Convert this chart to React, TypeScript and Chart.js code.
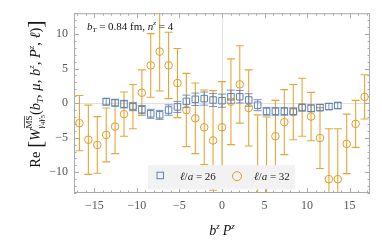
import React, { useEffect, useRef } from 'react';
import { Chart, registerables } from 'chart.js';
Chart.register(...registerables);

// ---- data ----
const bzPzOrange = [-16.76, -15.71, -14.66, -13.61, -12.57, -11.52, -10.47, -9.42, -8.38, -7.33, -6.28, -5.24, -4.19, -3.14, -2.09, -1.05, 0, 1.05, 2.09, 3.14, 4.19, 5.24, 6.28, 7.33, 8.38, 9.42, 10.47, 11.52, 12.57, 13.61, 14.66, 15.71, 16.76];
const valOrange = [-2.9, -5.3, -6.05, -4.6, -3.4, -1.6, -0.5, 1.5, 5.45, 7.45, 5.45, 2.9, -1.0, -2.2, -3.5, -5.4, -3.5, 0.2, 2.7, -0.7, -14.5, -15.0, -4.8, -2.75, -1.3, -0.6, -1.95, -5.05, -11.0, -11.0, -5.9, -3.0, 0.9];
const errOrange = [4.0, 5.0, 4.1, 3.9, 3.9, 3.2, 3.2, 3.3, 4.6, 5.7, 4.8, 5.0, 5.3, 5.1, 5.4, 7.2, 6.6, 6.2, 5.6, 5.5, 12.8, 13.0, 5.2, 4.7, 4.0, 4.2, 3.5, 4.4, 7.3, 7.3, 4.3, 3.4, 3.2];

const bzPzBlue = [-13.61, -12.57, -11.52, -10.47, -9.42, -8.38, -7.33, -6.28, -5.24, -4.19, -3.14, -2.09, -1.05, 0, 1.05, 2.09, 3.14, 4.19, 5.24, 6.28, 7.33, 8.38, 9.42, 10.47, 11.52, 12.57, 13.61];
const valBlue = [0.2, 0.05, -0.15, -0.5, -0.95, -1.55, -1.7, -1.0, -0.55, 0.25, 0.55, 0.65, 0.45, 0.35, 0.92, 0.92, 0.45, -0.3, -1.2, -1.2, -1.2, -1.2, -0.65, -0.75, -0.65, -0.5, -0.35];
const errBlue = [0.5, 0.5, 0.55, 0.6, 0.6, 0.65, 0.65, 0.75, 0.8, 0.9, 0.9, 0.95, 0.95, 0.95, 0.95, 0.9, 0.9, 0.8, 0.55, 0.55, 0.55, 0.5, 0.5, 0.5, 0.45, 0.45, 0.45];

const xTicks = [-15, -10, -5, 0, 5, 10, 15];
const yTicks = [-10, -5, 0, 5, 10];
const seriesLabels = ['26', '32'];

const BLUE = '#5E81B5';
const ORANGE = '#E19C24';
const FONT = "'Liberation Serif', 'DejaVu Serif', serif";

type Seg = { t?: string; s?: number; it?: boolean; dy?: number; over?: boolean; sup?: Seg[]; sub?: Seg[] };

function setFont(ctx: CanvasRenderingContext2D, sg: Seg, base: number) {
  ctx.font = `${sg.it ? 'italic ' : ''}${sg.s ?? base}px ${FONT}`;
}
function segWidth(ctx: CanvasRenderingContext2D, sg: Seg, base: number): number {
  if (sg.sup || sg.sub) {
    const a = (sg.sup || []).reduce((w, q) => w + segWidth(ctx, q, base), 0);
    const b = (sg.sub || []).reduce((w, q) => w + segWidth(ctx, q, base), 0);
    return Math.max(a, b);
  }
  setFont(ctx, sg, base);
  return ctx.measureText(sg.t || '').width;
}
function drawSeg(ctx: CanvasRenderingContext2D, sg: Seg, base: number, x: number, y: number): number {
  if (sg.sup || sg.sub) {
    let a = x;
    for (const q of sg.sup || []) a += drawSeg(ctx, q, base, a, y);
    let b = x;
    for (const q of sg.sub || []) b += drawSeg(ctx, q, base, b, y);
    return Math.max(a, b) - x;
  }
  setFont(ctx, sg, base);
  const w = ctx.measureText(sg.t || '').width;
  ctx.fillText(sg.t || '', x, y + (sg.dy || 0));
  if (sg.over) {
    const size = sg.s ?? base;
    const yy = y + (sg.dy || 0) - size * 0.78;
    ctx.save();
    ctx.lineWidth = 0.7;
    ctx.strokeStyle = ctx.fillStyle as string;
    ctx.beginPath();
    ctx.moveTo(x + 0.5, yy);
    ctx.lineTo(x + w - 0.5, yy);
    ctx.stroke();
    ctx.restore();
  }
  return w;
}
function drawRich(ctx: CanvasRenderingContext2D, segs: Seg[], base: number, x: number, y: number, align: 'left' | 'center') {
  ctx.textAlign = 'left';
  ctx.textBaseline = 'alphabetic';
  const total = segs.reduce((w, q) => w + segWidth(ctx, q, base), 0);
  let cx = align === 'center' ? x - total / 2 : x;
  for (const q of segs) cx += drawSeg(ctx, q, base, cx, y);
}

const fmt = (v: number) => (v < 0 ? '\u2212' + Math.abs(v) : String(v));

const framePlugin = {
  id: 'frameAndErrors',
  beforeDatasetsDraw(chart: any) {
    const { ctx, chartArea: a, scales } = chart;
    const xs = scales.x, ys = scales.y;
    ctx.save();
    // zero lines
    ctx.strokeStyle = '#e2e2e2';
    ctx.lineWidth = 1;
    ctx.beginPath();
    const x0 = Math.round(xs.getPixelForValue(0)) + 0.5;
    const y0 = Math.round(ys.getPixelForValue(0)) + 0.5;
    ctx.moveTo(x0, a.top); ctx.lineTo(x0, a.bottom);
    ctx.moveTo(a.left, y0); ctx.lineTo(a.right, y0);
    ctx.stroke();
    // frame
    ctx.strokeStyle = '#aaaaaa';
    ctx.strokeRect(a.left + 0.5, a.top + 0.5, a.right - a.left - 1, a.bottom - a.top - 1);
    // ticks
    ctx.beginPath();
    for (let v = Math.ceil(xs.min); v <= Math.floor(xs.max); v++) {
      const p = Math.round(xs.getPixelForValue(v)) + 0.5;
      const L = v % 5 === 0 ? 5 : 2.5;
      ctx.moveTo(p, a.bottom); ctx.lineTo(p, a.bottom - L);
      ctx.moveTo(p, a.top); ctx.lineTo(p, a.top + L);
    }
    for (let v = Math.ceil(ys.min); v <= Math.floor(ys.max); v++) {
      const p = Math.round(ys.getPixelForValue(v)) + 0.5;
      const L = v % 5 === 0 ? 5 : 2.5;
      ctx.moveTo(a.left, p); ctx.lineTo(a.left + L, p);
      ctx.moveTo(a.right, p); ctx.lineTo(a.right - L, p);
    }
    ctx.stroke();
    // error bars
    ctx.beginPath();
    ctx.rect(a.left, a.top, a.right - a.left, a.bottom - a.top);
    ctx.clip();
    const order = [1, 0];
    for (const di of order) {
      const ds = chart.data.datasets[di];
      const errs: number[] = ds.errors;
      ctx.strokeStyle = ds.errColor;
      ctx.lineWidth = ds.errWidth;
      ctx.beginPath();
      ds.data.forEach((pt: any, i: number) => {
        const px = xs.getPixelForValue(pt.x);
        const yt = ys.getPixelForValue(pt.y + errs[i]);
        const yb = ys.getPixelForValue(pt.y - errs[i]);
        const c = ds.capHalf;
        ctx.moveTo(px, yt); ctx.lineTo(px, yb);
        ctx.moveTo(px - c, yt); ctx.lineTo(px + c, yt);
        ctx.moveTo(px - c, yb); ctx.lineTo(px + c, yb);
      });
      ctx.stroke();
    }
    ctx.restore();
  },
  afterDraw(chart: any) {
    const { ctx, chartArea: a } = chart;
    ctx.save();
    // annotation
    ctx.fillStyle = '#111';
    drawRich(ctx, [
      { t: 'b', it: true },
      { t: 'T', s: 7, it: true, dy: 2.5 },
      { t: ' = 0.84 fm, ' },
      { t: 'n', it: true },
      { t: 'z', s: 7, it: true, dy: -4.5 },
      { t: ' = 4' },
    ], 11, a.left + 13, a.top + 16.5, 'left');

    // legend
    const lx = a.left + 74, ly = a.top + 152;
    ctx.fillStyle = '#f2f2f2';
    ctx.fillRect(lx, ly, 147, 24);
    ctx.lineWidth = 1;
    ctx.strokeStyle = BLUE;
    ctx.strokeRect(lx + 9, ly + 7, 6.5, 6.5);
    ctx.strokeStyle = ORANGE;
    ctx.beginPath();
    ctx.arc(lx + 89, ly + 11, 4.5, 0, Math.PI * 2);
    ctx.stroke();
    ctx.fillStyle = '#222';
    drawRich(ctx, [{ t: '\u2113', it: true }, { t: '/' }, { t: 'a', it: true }, { t: ' = ' + seriesLabels[0] }], 11, lx + 32, ly + 15, 'left');
    drawRich(ctx, [{ t: '\u2113', it: true }, { t: '/' }, { t: 'a', it: true }, { t: ' = ' + seriesLabels[1] }], 11, lx + 106, ly + 15, 'left');

    // x title
    ctx.fillStyle = '#111';
    drawRich(ctx, [
      { t: 'b', it: true },
      { t: 'z', s: 9, it: true, dy: -6 },
      { t: '\u2009' },
      { t: 'P', it: true },
      { t: 'z', s: 9, it: true, dy: -6 },
    ], 14, (a.left + a.right) / 2, 235, 'center');

    // y title
    ctx.translate(39.5, 94);
    ctx.rotate(-Math.PI / 2);
    drawRich(ctx, [
      { t: 'Re ' },
      { t: '[', s: 22, dy: 2.5 },
      { t: 'W', it: true },
      { sup: [{ t: 'MS', s: 9, dy: -8, over: true }], sub: [{ t: '\u03b3', s: 9, it: true, dy: 3.5 }, { t: '4', s: 6.5, dy: 5 }, { t: '\u03b3', s: 9, it: true, dy: 3.5 }, { t: '5', s: 6.5, dy: 5 }] },
      { t: '(' },
      { t: 'b', it: true },
      { t: 'T', s: 9, it: true, dy: 3.5 },
      { t: ', ' },
      { t: '\u03bc', it: true },
      { t: ', ' },
      { t: 'b', it: true },
      { t: 'z', s: 9, it: true, dy: -5.5 },
      { t: ', ' },
      { t: 'P', it: true },
      { t: 'z', s: 9, it: true, dy: -5.5 },
      { t: ', ' },
      { t: '\u2113', it: true },
      { t: ')' },
      { t: ']', s: 22, dy: 2.5 },
    ], 14.5, 0, 0, 'center');
    ctx.restore();
  },
};

export default function App() {
  const ref = useRef<HTMLCanvasElement | null>(null);
  useEffect(() => {
    document.body.style.margin = '0';
    const canvas = ref.current;
    if (!canvas) return;
    const chart = new Chart(canvas, {
      type: 'scatter',
      data: {
        datasets: [
          {
            label: seriesLabels[0],
            data: bzPzBlue.map((x, i) => ({ x, y: valBlue[i] })),
            pointStyle: 'rect',
            pointRadius: 4.6,
            pointBorderWidth: 1,
            borderColor: BLUE,
            backgroundColor: 'rgba(0,0,0,0)',
            errors: errBlue,
            errColor: 'rgba(94,129,181,0.85)',
            errWidth: 1,
            capHalf: 4,
          } as any,
          {
            label: seriesLabels[1],
            data: bzPzOrange.map((x, i) => ({ x, y: valOrange[i] })),
            pointStyle: 'circle',
            pointRadius: 3.8,
            pointBorderWidth: 1,
            borderColor: ORANGE,
            backgroundColor: 'rgba(0,0,0,0)',
            errors: errOrange,
            errColor: 'rgba(225,156,36,0.9)',
            errWidth: 1.1,
            capHalf: 4,
          } as any,
        ],
      },
      options: {
        responsive: false,
        animation: false,
        devicePixelRatio: 1,
        layout: { padding: { left: 0, right: 12, top: 11, bottom: 0 } },
        plugins: { legend: { display: false }, tooltip: { enabled: false } },
        scales: {
          x: {
            type: 'linear',
            min: -17.4,
            max: 17.4,
            afterFit: (s: any) => { s.height = 50; },
            afterBuildTicks: (s: any) => { s.ticks = xTicks.map((v) => ({ value: v })); },
            grid: { display: false, drawTicks: false },
            border: { display: false },
            ticks: { font: { family: FONT, size: 12 }, color: '#555', padding: 6, maxRotation: 0, autoSkip: false, callback: (v: any) => fmt(Number(v)) },
          },
          y: {
            type: 'linear',
            min: -13,
            max: 13,
            afterFit: (s: any) => { s.width = 74; },
            afterBuildTicks: (s: any) => { s.ticks = yTicks.map((v) => ({ value: v })); },
            grid: { display: false, drawTicks: false },
            border: { display: false },
            ticks: { font: { family: FONT, size: 12 }, color: '#555', padding: 6, autoSkip: false, callback: (v: any) => fmt(Number(v)) },
          },
        },
      } as any,
      plugins: [framePlugin],
    });
    return () => chart.destroy();
  }, []);
  return <canvas ref={ref} width={382} height={243} style={{ display: 'block' }} />;
}
